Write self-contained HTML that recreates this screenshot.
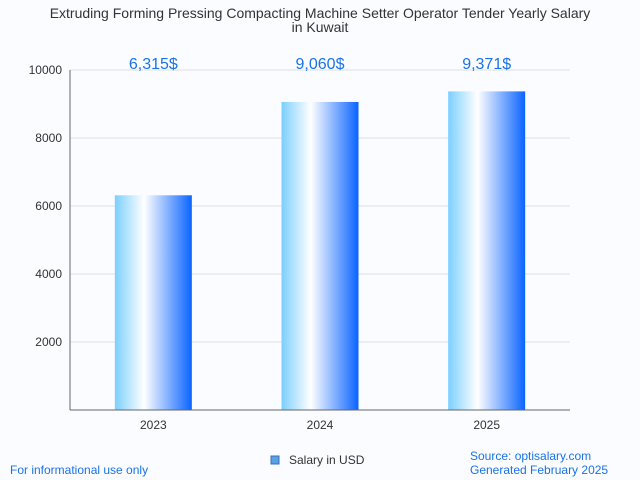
<!DOCTYPE html>
<html><head><meta charset="utf-8"><style>
body{margin:0;background:#fafcff;}
svg{display:block;font-family:"Liberation Sans",sans-serif;}
</style></head><body>
<svg id="c" width="640" height="480">
<defs><linearGradient id="g" x1="0" x2="1" y1="0" y2="0">
<stop offset="0" stop-color="#7ccfff"/><stop offset="0.38" stop-color="#ffffff"/><stop offset="1" stop-color="#0a64ff"/>
</linearGradient></defs>
<rect width="640" height="480" fill="#fafcff"/>
<text x="320" y="18" text-anchor="middle" font-size="14" fill="#333">Extruding Forming Pressing Compacting Machine Setter Operator Tender Yearly Salary</text>
<text x="320" y="32" text-anchor="middle" font-size="14" fill="#333">in Kuwait</text>
<g id="grid"></g><g id="bars"></g>
<line x1="70" y1="70" x2="70" y2="410" stroke="#666"/>
<line x1="70" y1="410" x2="570" y2="410" stroke="#666"/>
<rect x="271" y="456" width="8" height="8" fill="#5aa0e6" stroke="#3a6fb0"/>
<text x="289" y="464" font-size="12" fill="#333">Salary in USD</text>
<text x="10" y="474" font-size="12" fill="#1a73e8">For informational use only</text>
<text x="470" y="460" font-size="12" fill="#1a73e8">Source: optisalary.com</text>
<text x="470" y="474" font-size="12" fill="#1a73e8">Generated February 2025</text>
</svg>
<script>
const categories=["2023","2024","2025"];
const values=[6315,9060,9371];
const valueLabels=["6,315$","9,060$","9,371$"];
const yTicks=[2000,4000,6000,8000,10000];
const ns="http://www.w3.org/2000/svg";
const x0=70,x1=570,yTop=70,yBot=410,yMax=10000;
const y=v=>yBot-(v/yMax)*(yBot-yTop);
const band=(x1-x0)/categories.length;
const xc=i=>x0+band*(i+0.5);
function mk(t,a,p){const e=document.createElementNS(ns,t);for(const k in a)e.setAttribute(k,a[k]);p.appendChild(e);return e;}
const grid=document.getElementById('grid'),bars=document.getElementById('bars');
yTicks.forEach(t=>{
 const l=mk('line',{x1:x0,x2:x1,y1:y(t),y2:y(t),stroke:'#e0e0e0'},grid);
 
 
 const tx=mk('text',{x:x0-8,y:y(t)+4,'text-anchor':'end','font-size':12,fill:'#333'},grid);
 tx.textContent=t;
 
 
});
categories.forEach((c,i)=>{
 const w=77;
 const r=mk('rect',{x:xc(i)-w/2,y:y(values[i]),width:w,height:yBot-y(values[i]),fill:'url(#g)'},bars);
 
 
 const v=mk('text',{x:xc(i),y:69,'text-anchor':'middle','font-size':16,fill:'#1a73e8'},bars);
 v.textContent=valueLabels[i];
 
 
 const tl=mk('text',{x:xc(i),y:429,'text-anchor':'middle','font-size':12,fill:'#333'},bars);
 tl.textContent=c;
 
 
});
</script>
</body></html>
